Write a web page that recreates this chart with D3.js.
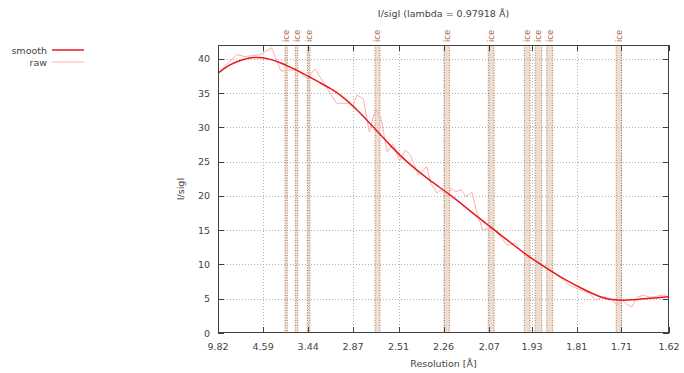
<!DOCTYPE html>
<html><head><meta charset="utf-8">
<script src="https://cdn.jsdelivr.net/npm/d3@7"></script>
<style>
body{margin:0;background:#fff;}
svg{display:block;}
text{font-family:"DejaVu Sans",sans-serif;}
</style></head>
<body><svg id="c" width="684" height="373"></svg>
<script>
// ---- data ----
const title = "I/sigI (lambda = 0.97918 Å)";
const xLabel = "Resolution [Å]";
const yLabel = "I/sigI";
const xTickLabels = ["9.82","4.59","3.44","2.87","2.51","2.26","2.07","1.93","1.81","1.71","1.62"];
const yTickValues = [0,5,10,15,20,25,30,35,40];
const seriesNames = ["smooth","raw"];

// raw I/sigI, x in 1/d^2 (Å^-2)
const rawDStarSq = [0.0106,0.0257,0.0326,0.0449,0.0545,0.0621,0.0679,0.0751,0.0833,0.0901,
  0.1079,0.1175,0.1213,0.1244,0.1298,0.1347,0.1398,0.1443,0.1495,0.1545,
  0.1595,0.1645,0.1686,0.1752,0.1819,0.1854,0.1904,0.1937,0.1992,0.2019,
  0.2060,0.2101,0.2142,0.2191,0.2228,0.2279,0.2334,0.2380,0.2438,0.2479,
  0.2545,0.2600,0.2643,0.2693,0.2750,0.2832,0.2898,0.2989,0.3079,0.3145,
  0.3210,0.3268,0.3334,0.3381,0.3424,0.3465,0.3506,0.3547,0.3597,0.3663,
  0.3720,0.3778,0.3810];
const rawIsig = [37.9,40.6,40.3,40.6,41.6,38.2,38.3,38.4,37.1,38.5,
  33.5,33.5,33.1,34.7,34.2,29.3,32.7,31.3,26.4,27.6,
  25.1,26.7,25.9,23.0,24.3,21.8,20.4,20.9,19.9,21.1,
  20.6,20.9,19.9,20.5,17.8,15.0,15.3,14.9,13.8,12.8,
  13.1,11.9,11.1,10.8,10.2,9.3,8.3,7.0,6.3,5.9,
  4.8,5.3,5.0,4.1,4.8,4.2,3.8,5.2,5.5,5.2,
  5.4,5.6,5.2];

// smoothed I/sigI
const smoothDStarSq = [0.0104,0.0186,0.0260,0.0326,0.0400,0.0465,0.0539,0.0621,0.0696,0.0778,
  0.0860,0.0942,0.1024,0.1115,0.1246,0.1382,0.1517,0.1649,0.1838,0.2027,
  0.2200,0.2380,0.2561,0.2750,0.2915,0.3079,0.3268,0.3383,0.3515,0.3654,
  0.3810];
const smoothIsig = [37.9,39.0,39.6,40.0,40.2,40.2,39.9,39.4,38.8,38.1,
  37.3,36.5,35.7,34.7,32.6,30.0,27.4,25.0,22.3,20.0,
  17.4,15.0,12.4,10.0,8.2,6.6,5.0,4.75,4.8,5.1,
  5.3];

// ice ring bands, resolution limits in Å
const iceRingLowD  = [3.909,3.678,3.455,2.678,2.258,2.074,1.953,1.921,1.888,1.721];
const iceRingHighD = [3.854,3.630,3.410,2.640,2.233,2.053,1.936,1.902,1.872,1.710];
const iceLabel = "ice";

// ---- drawing ----
const svg = d3.select("#c");
const L=218, R=669, T=45, B=333;
const dMax = 9.82, dMin = 1.62;
const x = d3.scaleLinear().domain([1/(dMax*dMax), 1/(dMin*dMin)]).range([L,R]);
const y = d3.scaleLinear().domain([0,42]).range([B,T]);
const xt = xTickLabels.map(s=>1/(+s*+s));
const axisCol = "#404040", txtCol = "#444";

// grid
const grid = svg.append("g").attr("stroke","#b0b0b0").attr("stroke-width",1).attr("stroke-dasharray","1,2");
xt.slice(1,-1).forEach(v=>grid.append("line").attr("x1",Math.round(x(v))+0.5).attr("x2",Math.round(x(v))+0.5).attr("y1",T).attr("y2",B));
yTickValues.slice(1).forEach(v=>grid.append("line").attr("x1",L).attr("x2",R).attr("y1",Math.round(y(v))+0.5).attr("y2",Math.round(y(v))+0.5));

// ice rings
const ice = svg.append("g");
iceRingLowD.forEach((dl,i)=>{
  const x0 = x(1/(dl*dl)), x1 = x(1/(iceRingHighD[i]*iceRingHighD[i]));
  ice.append("rect").attr("x",x0).attr("y",T).attr("width",x1-x0).attr("height",B-T)
    .attr("fill","#d9b49a").attr("fill-opacity",0.45);
  [x0,x1].forEach(xx=>ice.append("line").attr("x1",xx).attr("x2",xx).attr("y1",T).attr("y2",B)
    .attr("stroke","#a0603a").attr("stroke-width",1).attr("stroke-dasharray","1,1.5").attr("stroke-opacity",0.8));
  const xc=(x0+x1)/2;
  svg.append("text").attr("transform",`translate(${xc+3},${T-3}) rotate(-90)`)
    .attr("font-size",8.5).attr("fill","#b06a3c").text(iceLabel);
});

// raw line
const raw = rawDStarSq.map((s,i)=>[s,rawIsig[i]]);
svg.append("path").datum(raw).attr("fill","none").attr("stroke","#ffaeae").attr("stroke-width",1)
  .attr("d",d3.line().x(d=>x(d[0])).y(d=>y(d[1])));
// smooth
const sm = smoothDStarSq.map((s,i)=>[s,smoothIsig[i]]);
svg.append("path").datum(sm).attr("fill","none").attr("stroke","#e8191e").attr("stroke-width",1.5)
  .attr("d",d3.line().curve(d3.curveBasis).x(d=>x(d[0])).y(d=>y(d[1])));

// frame
svg.append("rect").attr("x",L+0.5).attr("y",T+0.5).attr("width",R-L-1).attr("height",B-T-1)
  .attr("fill","none").attr("stroke",axisCol).attr("stroke-width",1);

// ticks
const tk = svg.append("g").attr("stroke",axisCol).attr("stroke-width",1);
xt.forEach(v=>{const xx=Math.round(x(v))+0.5;
  tk.append("line").attr("x1",xx).attr("x2",xx).attr("y1",B).attr("y2",B-6);
  tk.append("line").attr("x1",xx).attr("x2",xx).attr("y1",T).attr("y2",T+6);});
yTickValues.forEach(v=>{const yy=Math.round(y(v))+0.5;
  tk.append("line").attr("x1",L).attr("x2",L+6).attr("y1",yy).attr("y2",yy);
  tk.append("line").attr("x1",R).attr("x2",R-6).attr("y1",yy).attr("y2",yy);});

// tick labels
const fs = 9.5;
xTickLabels.forEach((lab,i)=>svg.append("text").attr("x",x(xt[i])).attr("y",350).attr("text-anchor","middle")
  .attr("font-size",fs).attr("fill",txtCol).text(lab));
yTickValues.forEach(v=>svg.append("text").attr("x",210).attr("y",y(v)+3.5).attr("text-anchor","end")
  .attr("font-size",fs).attr("fill",txtCol).text(v));

// labels
svg.append("text").attr("x",(L+R)/2).attr("y",367).attr("text-anchor","middle").attr("font-size",fs).attr("fill",txtCol).text(xLabel);
svg.append("text").attr("transform",`translate(184,${(T+B)/2}) rotate(-90)`).attr("text-anchor","middle").attr("font-size",fs).attr("fill",txtCol).text(yLabel);
svg.append("text").attr("x",(L+R)/2).attr("y",17).attr("text-anchor","middle").attr("font-size",fs).attr("fill",txtCol).text(title);

// legend
const lg = [{c:"#e8191e",w:1.5},{c:"#ffaeae",w:1}];
seriesNames.forEach((n,i)=>{
  const yy = 50 + i*12;
  svg.append("text").attr("x",47).attr("y",yy+3.5).attr("text-anchor","end").attr("font-size",fs).attr("fill",txtCol).text(n);
  svg.append("line").attr("x1",52).attr("x2",84).attr("y1",yy).attr("y2",yy).attr("stroke",lg[i].c).attr("stroke-width",lg[i].w);
});
</script></body></html>
